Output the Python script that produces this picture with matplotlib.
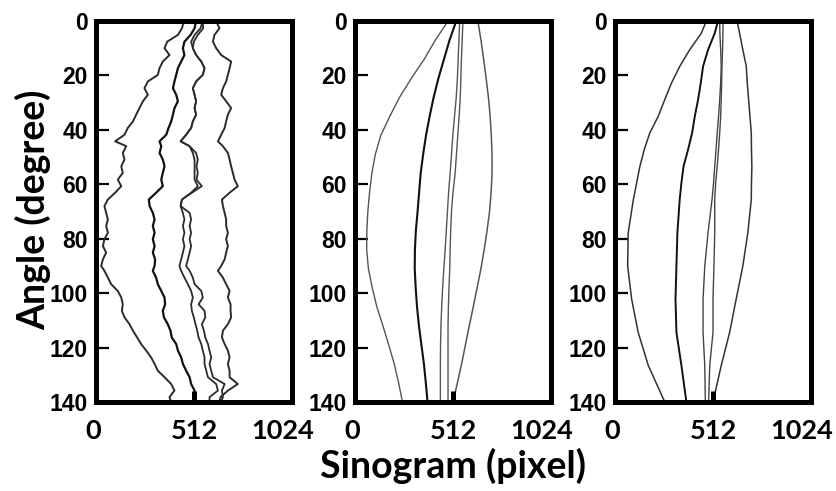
import numpy as np
import matplotlib
matplotlib.use("Agg")
import matplotlib.pyplot as plt
from matplotlib.transforms import ScaledTranslation

# ---- panel 1 : noisy traces ----
ang1 = [0.0, 2.7, 5.1, 7.6, 10.0, 12.5, 14.9, 17.3, 19.8, 22.2, 24.7, 27.1, 29.5, 32.0, 34.4, 36.9, 39.3, 41.8, 44.2,
        46.0, 48.5, 50.9, 53.4, 55.8, 58.3, 60.7, 63.1, 65.6, 68.0, 70.5, 72.9, 75.3, 77.8, 80.2, 82.7, 85.1, 87.6, 90.0,
        91.8, 94.3, 96.7, 99.2, 101.6, 104.1, 106.5, 108.9, 111.4, 113.8, 116.3, 118.7, 121.1, 123.6, 126.0, 128.5,
        130.9, 133.4, 135.8, 138.2, 140.0]
p1_a = [459, 449, 428, 372, 358, 384, 349, 332, 323, 271, 253, 271, 245, 227, 210, 193, 166, 149, 100,
        158, 140, 149, 132, 140, 114, 132, 100, 62, 44, 53, 62, 53, 62, 44, 36, 53, 36, 27,
        44, 62, 79, 114, 132, 140, 135, 149, 175, 193, 215, 236, 262, 288, 306, 323, 358, 393, 410, 384, 393]
p1_b = [523, 515, 494, 462, 454, 462, 445, 428, 419, 410, 402, 419, 428, 410, 402, 393, 379, 367, 332,
        341, 332, 349, 358, 349, 341, 349, 314, 276, 280, 297, 306, 297, 306, 297, 306, 297, 309, 306,
        297, 314, 323, 341, 358, 361, 349, 355, 375, 389, 396, 419, 428, 445, 454, 471, 489, 497, 515, 515, 511]
p1_c1 = [558, 546, 515, 497, 506, 523, 550, 567, 558, 523, 506, 515, 523, 515, 523, 506, 497, 471, 442,
         489, 506, 515, 515, 515, 515, 532, 497, 449, 442, 454, 462, 454, 462, 454, 462, 454, 445, 436,
         445, 462, 480, 497, 506, 497, 501, 511, 520, 529, 536, 550, 558, 567, 567, 576, 585, 628, 637, 593, 593]
p1_c2 = [558, 560, 532, 511, 506, 523, 550, 567, 558, 523, 506, 515, 523, 515, 523, 506, 497, 471, 442,
         489, 523, 532, 525, 532, 525, 553, 501, 449, 442, 489, 497, 489, 497, 489, 497, 489, 480, 471,
         489, 506, 515, 550, 558, 536, 567, 571, 553, 564, 571, 585, 593, 602, 593, 602, 611, 672, 658, 663, 654]
p1_e = [628, 645, 619, 611, 628, 654, 706, 698, 689, 680, 663, 654, 680, 706, 689, 680, 672, 654, 637,
        663, 689, 698, 706, 715, 724, 741, 698, 658, 663, 672, 680, 680, 689, 680, 689, 680, 672, 654,
        637, 663, 680, 698, 689, 703, 703, 706, 689, 663, 658, 672, 689, 698, 689, 698, 698, 741, 689, 651, 645]

# ---- panel 2 : smooth sinusoids ----
ang2 = [0, 7, 14, 21, 28, 35, 42, 49, 56, 63, 70, 77, 84, 91, 98, 105, 112, 119, 126, 133, 140]
p2_p = [486, 420, 362, 295, 233, 182, 135, 106, 88, 76, 67, 62, 61, 70, 90, 114, 146, 176, 205, 228, 248]
p2_q = [529, 494, 465, 436, 411, 390, 371, 356, 343, 335, 327, 318, 313, 312, 317, 324, 334, 347, 360, 370, 379]
p2_r = [547, 543, 539, 535, 529, 520, 511, 504, 497, 489, 483, 477, 471, 464, 458, 453, 449, 447, 446, 446, 446]
p2_s = [564, 560, 556, 553, 550, 544, 537, 530, 523, 512, 504, 500, 497, 495, 491, 488, 486, 486, 486, 486, 486]
p2_t = [642, 658, 672, 685, 697, 706, 712, 716, 716, 711, 703, 690, 675, 658, 638, 618, 597, 577, 557, 535, 512]

# ---- panel 3 : recovered traces ----
ang3 = [0, 4.5, 10.6, 16.7, 22.8, 28.9, 35.0, 41.1, 47.2, 53.4, 59.5, 65.6, 77.8, 90.0, 102.2, 114.4, 126.6, 140]
p3_p = [477, 451, 390, 338, 295, 260, 226, 182, 153, 130, 113, 96, 69, 66, 87, 121, 174, 260]
p3_q = [538, 521, 486, 460, 448, 434, 417, 403, 382, 358, 347, 338, 326, 321, 316, 321, 347, 373]
p3_r = [547, 548, 552, 555, 552, 547, 541, 534, 528, 521, 515, 507, 486, 469, 460, 460, 469, 472]
p3_s = [564, 564, 562, 559, 557, 555, 552, 547, 541, 534, 526, 521, 521, 517, 512, 512, 495, 489]
p3_t = [638, 651, 668, 686, 691, 698, 705, 712, 713, 715, 713, 712, 694, 668, 633, 599, 555, 512]

marker_x = 512
marker_ang = [136, 140]

xticks = [0, 512, 1024]
yticks = [0, 20, 40, 60, 80, 100, 120, 140]

fig = plt.figure(figsize=(8.36, 4.91), dpi=100)
lefts = [96 / 836, 355 / 836, 615 / 836]
axes = [fig.add_axes([l, 1 - 402 / 491, 196 / 836, 381 / 491]) for l in lefts]

panels = [
    (ang1, [(p1_a, '#2b2b2b', 1.4), (p1_b, '#111111', 1.6), (p1_c1, '#2b2b2b', 1.3),
            (p1_c2, '#2b2b2b', 1.3), (p1_e, '#2b2b2b', 1.4)]),
    (ang2, [(p2_p, '#555555', 1.0), (p2_q, '#111111', 1.5), (p2_r, '#555555', 1.0),
            (p2_s, '#555555', 1.0), (p2_t, '#555555', 1.1)]),
    (ang3, [(p3_p, '#333333', 1.1), (p3_q, '#111111', 1.4), (p3_r, '#444444', 1.0),
            (p3_s, '#444444', 1.0), (p3_t, '#333333', 1.1)]),
]

# horizontal nudges (pixels) of the x tick labels, as in the original figure
x_nudge = [-3, 0, -9]

for ax, (ang, curves) in zip(axes, panels):
    for xs, col, lw in curves:
        ax.plot(xs, ang, color=col, lw=lw)
    ax.plot([marker_x, marker_x], marker_ang, color='black', lw=3.6, solid_capstyle='butt')
    ax.set_xlim(0, 1024)
    ax.set_ylim(140, 0)
    ax.set_xticks(xticks)
    ax.set_yticks(yticks)
    for s in ax.spines.values():
        s.set_linewidth(3.6)
        s.set_color('black')
    ax.tick_params(axis='y', direction='in', length=9, width=1.6, pad=6)
    ax.tick_params(axis='x', length=0, pad=12)
    for lab in ax.get_yticklabels():
        lab.set_fontfamily('Liberation Sans')
        lab.set_fontweight('bold')
        lab.set_fontsize(16.5)
    for lab, dx in zip(ax.get_xticklabels(), x_nudge):
        lab.set_fontfamily('Lato')
        lab.set_fontweight('bold')
        lab.set_fontsize(19.5)
        lab.set_transform(lab.get_transform() + ScaledTranslation(dx / 100, 0, fig.dpi_scale_trans))

fig.text(0.040, 0.572, 'Angle (degree)', rotation=90, ha='center', va='center',
         fontfamily='Lato', fontweight='bold', fontsize=27)
fig.text(0.542, 0.052, 'Sinogram (pixel)', ha='center', va='center',
         fontfamily='Lato', fontweight='bold', fontsize=27)

fig.savefig('out.png', dpi=100)
